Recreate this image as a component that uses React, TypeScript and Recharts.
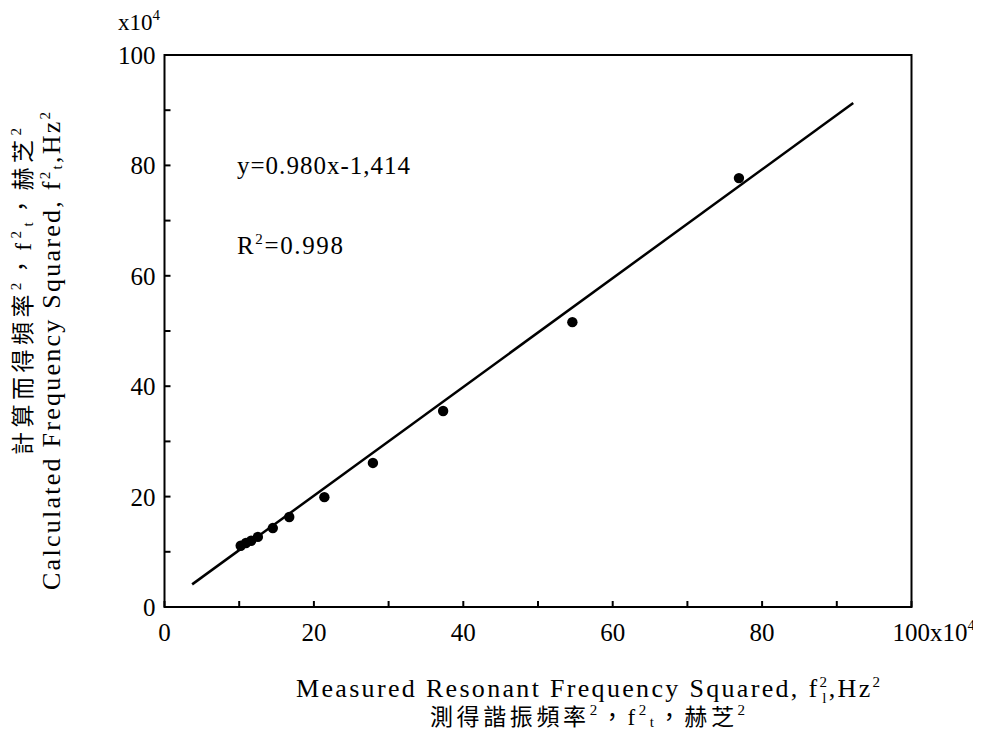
import React from 'react';
import { ScatterChart, Scatter, XAxis, YAxis, ReferenceArea } from 'recharts';

// values in units of 10^4 Hz^2
const measuredX = [10.2, 10.9, 11.6, 12.5, 14.5, 16.7, 21.4, 27.9, 37.3, 54.6, 76.9];
const calculatedY = [11.1, 11.6, 12.0, 12.7, 14.3, 16.3, 19.9, 26.1, 35.5, 51.6, 77.7];
const fitX = [3.7, 92.2];
const fitY = [4.1, 91.3];
const axisTicks = [0, 10, 20, 30, 40, 50, 60, 70, 80, 90, 100];

const points = measuredX.map((x, i) => ({ x, y: calculatedY[i] }));
const fitLine = fitX.map((x, i) => ({ x, y: fitY[i] }));

const FONT = "'Liberation Serif', 'Noto Sans CJK TC', serif";
const TICK_LEN = 6;

const BottomTick = (props: any) => {
  const { x, y, payload } = props;
  const v = payload.value;
  const last = v === 100;
  return (
    <g>
      <line x1={x} y1={y} x2={x} y2={y - TICK_LEN} stroke="#000" strokeWidth={2} />
      {v % 20 === 0 && (
        <text x={last ? x - 19 : x} y={y + 34} textAnchor={last ? 'start' : 'middle'}
          fontFamily={FONT} fontSize={25} fill="#000">
          {v}
          {last && <tspan>x10</tspan>}
          {last && <tspan fontSize={15} dy={-11}>4</tspan>}
        </text>
      )}
    </g>
  );
};

const LeftTick = (props: any) => {
  const { x, y, payload } = props;
  const v = payload.value;
  return (
    <g>
      <line x1={x} y1={y} x2={x + TICK_LEN} y2={y} stroke="#000" strokeWidth={2} />
      {v % 20 === 0 && (
        <text x={x - 9} y={y + 9} textAnchor="end" fontFamily={FONT} fontSize={25} fill="#000">
          {v}
        </text>
      )}
    </g>
  );
};

const TopTick = (props: any) => {
  const { x, y } = props;
  return <line x1={x} y1={y} x2={x} y2={y + TICK_LEN} stroke="#000" strokeWidth={2} />;
};

const RightTick = (props: any) => {
  const { x, y } = props;
  return <line x1={x} y1={y} x2={x - TICK_LEN} y2={y} stroke="#000" strokeWidth={2} />;
};

const Sup = ({ children }: { children: React.ReactNode }) => (
  <tspan fontSize={15} dy={-10}>{children}</tspan>
);

export default function App() {
  return (
    <div style={{ position: 'relative', width: 973, height: 728, background: '#fff' }}>
      <ScatterChart width={973} height={720}
        margin={{ top: 47, right: 69.5, left: 96.5, bottom: 81 }}>
        <XAxis dataKey="x" type="number" domain={[0, 100]} ticks={axisTicks}
          axisLine={false} tickLine={false} tickSize={0} tickMargin={0} height={40}
          tick={<BottomTick />} interval={0} />
        <XAxis xAxisId="top" orientation="top" type="number" domain={[0, 100]} ticks={axisTicks}
          axisLine={false} tickLine={false} tickSize={0} tickMargin={0} height={0}
          tick={<TopTick />} interval={0} />
        <YAxis dataKey="y" type="number" domain={[0, 100]} ticks={axisTicks}
          axisLine={false} tickLine={false} tickSize={0} tickMargin={0} width={60}
          tick={<LeftTick />} interval={0} />
        <YAxis yAxisId="right" orientation="right" type="number" domain={[0, 100]} ticks={axisTicks}
          axisLine={false} tickLine={false} tickSize={0} tickMargin={0} width={0}
          tick={<RightTick />} interval={0} />
        <ReferenceArea x1={0} x2={100} y1={0} y2={100} fill="none" fillOpacity={0}
          stroke="#000" strokeWidth={2} />
        <Scatter data={fitLine} line={{ stroke: '#000', strokeWidth: 2.5 }}
          shape={() => <g />} isAnimationActive={false} />
        <Scatter data={points} fill="#000" isAnimationActive={false}
          shape={(p: any) => <circle cx={p.cx} cy={p.cy} r={5.2} fill="#000" />} />
      </ScatterChart>

      <svg width={973} height={728} overflow="visible"
        style={{ position: 'absolute', left: 0, top: 0, pointerEvents: 'none' }}
        fontFamily={FONT} fill="#000">
        <text x={110} y={22} fontSize={23}>
          x10<Sup>4</Sup>
        </text>

        <text x={229} y={166} fontSize={25} textLength={173} lengthAdjust="spacing">
          y=0.980x-1,414
        </text>
        <text x={229} y={246} fontSize={25} textLength={106} lengthAdjust="spacing">
          R<Sup>2</Sup><tspan dy={10}>=0.998</tspan>
        </text>

        <text x={288} y={689} fontSize={26} textLength={584} lengthAdjust="spacing">
          Measured Resonant Frequency Squared, f<Sup>2</Sup><tspan fontSize={15} dx={-7} dy={16}>l</tspan>
          <tspan dy={-6}>,Hz</tspan><Sup>2</Sup>
        </text>
        <text x={422} y={717} fontSize={23} textLength={315} lengthAdjust="spacing">
          測得諧振頻率<Sup>2</Sup><tspan dy={10}>，f</tspan><Sup>2</Sup>
          <tspan fontSize={15} dy={12}>t</tspan><tspan dy={-2}>，赫芝</tspan><Sup>2</Sup>
        </text>

        <text x={23} y={283.5} fontSize={23} textAnchor="middle" textLength={327} lengthAdjust="spacing"
          transform="rotate(-90, 23, 283.5)">
          計算而得頻率<Sup>2</Sup><tspan dy={10}>，f</tspan><Sup>2</Sup>
          <tspan fontSize={15} dy={12}>t</tspan><tspan dy={-2}>，赫芝</tspan><Sup>2</Sup>
        </text>
        <text x={52} y={343} fontSize={26} textAnchor="middle" textLength={478} lengthAdjust="spacing"
          transform="rotate(-90, 52, 343)">
          Calculated Frequency Squared, f<Sup>2</Sup>
          <tspan fontSize={15} dy={12}>t</tspan><tspan dy={-2}>,Hz</tspan><Sup>2</Sup>
        </text>
      </svg>
    </div>
  );
}
